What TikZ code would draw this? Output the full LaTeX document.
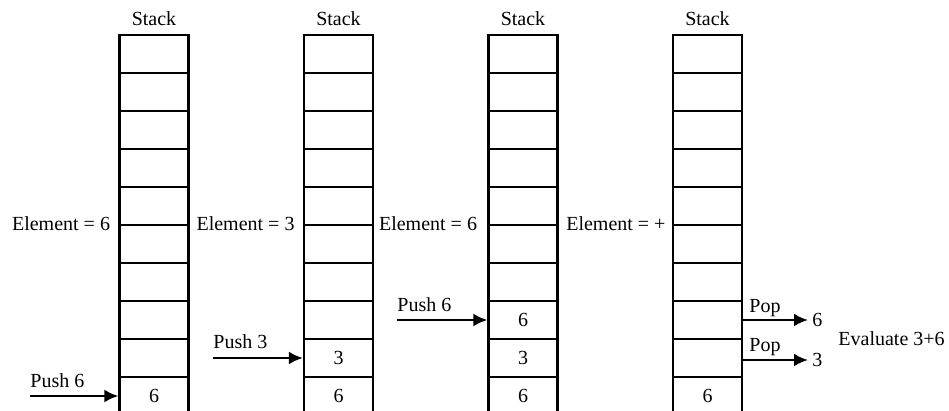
\documentclass[tikz,border=0pt]{standalone}
\usepackage{fontspec}
\setmainfont{Liberation Serif}
\usepackage{tikz}
\usetikzlibrary{arrows.meta,positioning}

\begin{document}
\begin{tikzpicture}[x=0.5pt,y=-0.5pt,
		cell/.style={draw,line width=1.1pt,minimum width=34.5pt,minimum height=19pt,inner sep=0pt},
		lbl/.style={inner sep=0pt},
		pusharrow/.style={-{Latex[length=7pt,width=6.5pt]},line width=1.3pt}]
		\useasboundingbox (0,0) rectangle (949,411);
		% the four stacks
		\foreach \s/\xc in {1/154,2/338.5,3/523,4/707.5}{
			\foreach \c in {1,...,10}
				\node[cell] (s\s c\c) at (\xc,16+38*\c) {};
			\node[lbl] (title\s) at (\xc,19) {Stack};
		}
		% contents
		\node[lbl] (v1a) at (s1c10) {6};
		\node[lbl] (v2a) at (s2c10) {6};
		\node[lbl] (v2b) at (s2c9) {3};
		\node[lbl] (v3a) at (s3c10) {6};
		\node[lbl] (v3b) at (s3c9) {3};
		\node[lbl] (v3c) at (s3c8) {6};
		\node[lbl] (v4a) at (s4c10) {6};
		% scanned element
		\node[lbl,left=4pt of s1c6.north west] (elem1) {Element = 6};
		\node[lbl,left=4pt of s2c6.north west] (elem2) {Element = 3};
		\node[lbl,left=5pt of s3c6.north west] (elem3) {Element = 6};
		\node[lbl,left=3pt of s4c6.north west] (elem4) {Element = +};
		% push
		\coordinate (p1) at (30,396);
		\coordinate (p2) at (213,358);
		\coordinate (p3) at (397,320);
		\node[lbl,anchor=base west] (push1) at (30,388) {Push 6};
		\node[lbl,anchor=base west] (push2) at (213,349) {Push 3};
		\node[lbl,anchor=base west] (push3) at (397,312) {Push 6};
		\draw[pusharrow] (p1) -- (s1c10.west);
		\draw[pusharrow] (p2) -- (s2c9.west);
		\draw[pusharrow] (p3) -- (s3c8.west);
		% pop
		\node[lbl,inner sep=2pt,anchor=west] (out1) at (808,320) {6};
		\node[lbl,inner sep=2pt,anchor=west] (out2) at (808,360) {3};
		\node[lbl,anchor=base west] (pop1) at (749,313) {Pop};
		\node[lbl,anchor=base west] (pop2) at (749,352) {Pop};
		\draw[pusharrow] (s4c8.east) -- (out1.west);
		\draw[pusharrow] (s4c9.east |- out2.west) -- (out2.west);
		\node[lbl,anchor=west] (eval) at (838,339) {Evaluate 3+6};
	\end{tikzpicture}
\end{document}
